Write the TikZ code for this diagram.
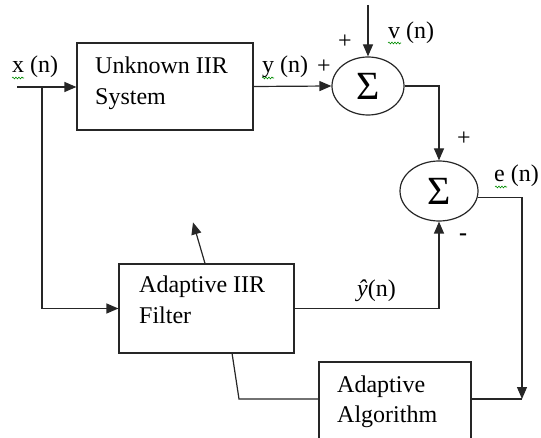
\documentclass[tikz,border=0pt]{standalone}
\usepackage{fontspec}
\setmainfont{Liberation Serif}
\usetikzlibrary{arrows.meta,shapes.geometric,decorations.pathmorphing}
\begin{document}
\begin{tikzpicture}[x=1pt,y=-1pt,
  every node/.style={font=\fontsize{24}{30}\selectfont, inner sep=0pt},
  ln/.style={line width=1.2pt, draw=black!85},
  arr/.style={ln, -{Triangle[length=12pt,width=10pt]}},
  blk/.style={draw=black!85, line width=1.2pt, rectangle, minimum width=#1},
  sumnode/.style={draw=black!85, line width=1.2pt, ellipse, minimum width=72pt, minimum height=58pt, font=\fontsize{40}{40}\selectfont},
  txt/.style={anchor=base west},
  squig/.style={draw=green!55!black, line width=0.6pt, decorate, decoration={snake, amplitude=0.9pt, segment length=3pt}}
]
\useasboundingbox (0,0) rectangle (541,438);
\clip (0,0) rectangle (541,438);
% blocks
\node[blk=176pt, minimum height=87pt] (sys) at (165,86.5) {};
\node[blk=175pt, minimum height=89pt] (filt) at (206.5,308.5) {};
\node[blk=152pt, minimum height=98pt] (algo) at (395,411) {};
\node[sumnode] (s1) at (368,86) {Σ};
\node[sumnode, minimum width=78pt, minimum height=60pt] (s2) at (439,191) {Σ};
% block texts
\node[txt] (t1) at (95,74) {Unknown IIR};
\node[txt] (t2) at (95,105) {System};
\node[txt] (t3) at (139,293) {Adaptive IIR};
\node[txt] (t4) at (139,324) {Filter};
\node[txt] (t5) at (337,392) {Adaptive};
\node[txt] (t6) at (337,422) {Algorithm};
% signal labels
\node[txt] (lx) at (12,73) {x (n)};
\node[txt] (ly) at (262,73) {y (n)};
\node (lyp) at (324,67) {+};
\node[txt] (lv) at (388,39) {v (n)};
\node (lvp) at (345,42) {+};
\node (ls2p) at (464,139) {+};
\node[txt] (le) at (494,182) {e (n)};
\node[font=\fontsize{24}{30}\selectfont\bfseries] (lm) at (463,237) {-};
\node[txt] (lyh) at (357,297) {{\itshape ŷ}(n)};
% spell-check squiggles
\draw[squig] (12,78) -- (24,78);
\draw[squig] (262,78) -- (274,78);
\draw[squig] (388,43) -- (401,43);
\draw[squig] (495,187) -- (507,187);
% coordinates
\coordinate (xin) at (17,87);
\coordinate (br) at (42,87);
\coordinate (vtop) at (368,5);
\coordinate (ec) at (522,399);
\coordinate (ak) at (239,399);
\coordinate (fb) at (232,353);
% connectors
\draw[arr] (xin) -- (sys.west |- xin);
\draw[arr] (br) |- (filt.west);
\draw[arr] (sys.east) -- (s1.west);
\draw[arr] (vtop) -- (s1.north);
\draw[arr] (s1.east) -| (s2.north);
\draw[arr] (filt.east) -| (s2.south);
\draw[arr] (s2.350) -| (ec);
\draw[ln] (ec) -- (ec -| algo.east);
\draw[ln] (ak -| algo.west) -- (ak) -- (fb);
\draw[arr] ([xshift=-1.5pt]filt.north) -- ++(-12,-41);
\end{tikzpicture}
\end{document}
